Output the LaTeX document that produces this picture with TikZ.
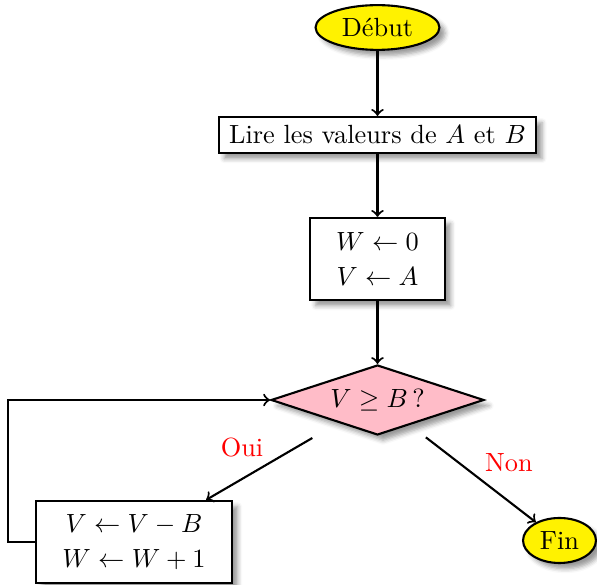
\documentclass[tikz,border=0pt]{standalone}
\usetikzlibrary{shapes.geometric,shadows.blur}
\definecolor{diamondpink}{RGB}{255,188,200}
\begin{document}
\begin{tikzpicture}[x=0.38pt,y=-0.38pt,
  base/.style={draw, thick, blur shadow},
  term/.style={base, ellipse, fill=yellow, inner sep=0pt},
  boxnode/.style={base, rectangle, fill=white, inner sep=0pt, align=center},
  decision/.style={base, diamond, aspect=3, fill=diamondpink, inner sep=0pt},
  arrow/.style={->, thick},
  lbl/.style={text=red}]
\useasboundingbox (0,0) rectangle (597,585);
\node[term, minimum width=47.1pt, minimum height=17pt] (debut) at (377.5,27.5) {Début};
\node[boxnode, minimum width=120.8pt, minimum height=13.7pt] (lire) at (377.5,135) {Lire les valeurs de $A$ et $B$};
\node[boxnode, minimum width=51.3pt, minimum height=31.2pt] (init) at (377.5,259) {$W \leftarrow 0$\\[1.5pt]$V \leftarrow A$};
\node[decision, minimum width=80.9pt, minimum height=26.6pt] (test) at (377.5,400) {$V \geq B$\,?};
\node[boxnode, minimum width=74.5pt, minimum height=31.2pt] (loop) at (134,542) {$V \leftarrow V - B$\\[1.5pt]$W \leftarrow W + 1$};
\node[term, minimum width=27.7pt, minimum height=17.1pt] (fin) at (559.5,540.5) {Fin};
\draw[arrow] (debut) -- (lire);
\draw[arrow] (lire) -- (init);
\draw[arrow] (init) -- (test);
\draw[arrow, shorten <=11.4pt] (test) -- (loop);
\draw[arrow, shorten <=7.6pt] (test) -- (fin);
\draw[arrow] (loop.west) -- ++(-27,0) |- (test.west);
\node[lbl] (oui) at (242,448) {Oui};
\node[lbl] (non) at (509,463) {Non};
\end{tikzpicture}
\end{document}
